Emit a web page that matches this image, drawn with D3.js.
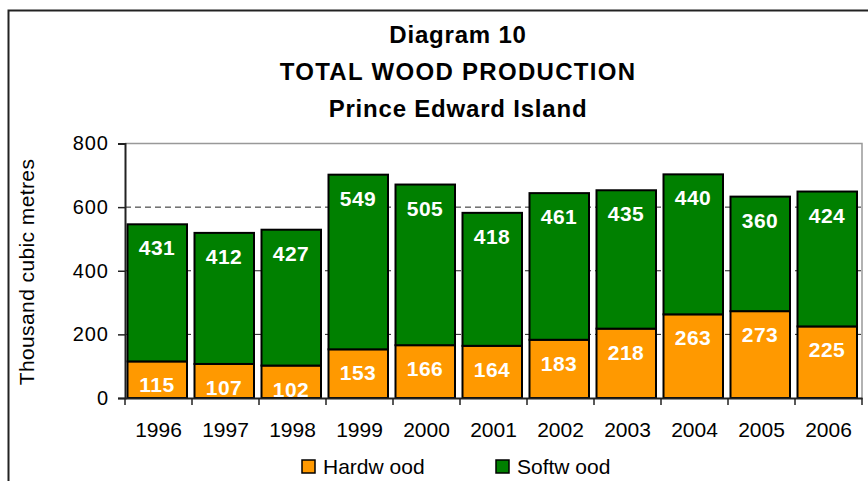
<!DOCTYPE html>
<html>
<head>
<meta charset="utf-8">
<script src="https://cdn.jsdelivr.net/npm/d3@7/dist/d3.min.js"></script>
<style>
  body { margin: 0; background: #fff; }
  text { font-family: "Liberation Sans", Arial, sans-serif; }
</style>
</head>
<body>
<div id="chart"></div>
<script>
var svgWidth = 868;
var svgHeight = 481;

// chart data
var years = ["1996", "1997", "1998", "1999", "2000", "2001", "2002", "2003", "2004", "2005", "2006"];
var hardwood = [115, 107, 102, 153, 166, 164, 183, 218, 263, 273, 225];
var softwood = [431, 412, 427, 549, 505, 418, 461, 435, 440, 360, 424];
var seriesNames = ["Hardw ood", "Softw ood"];
var yTicks = [0, 200, 400, 600, 800];
var titleLines = ["Diagram 10", "TOTAL WOOD PRODUCTION", "Prince Edward Island"];

var colors = ["#FF9900", "#008000"];

var margin = { top: 143.5, right: 6, bottom: 83, left: 125 };
var width = svgWidth - margin.left - margin.right;
var height = svgHeight - margin.top - margin.bottom;

var svg = d3.select("#chart")
  .append("svg")
  .attr("width", svgWidth)
  .attr("height", svgHeight);

// outer frame (runs off the right and bottom edge like the original)
svg.append("rect")
  .attr("x", 8.5)
  .attr("y", 10.5)
  .attr("width", 900)
  .attr("height", 500)
  .attr("fill", "none")
  .attr("stroke", "#222")
  .attr("stroke-width", 2);

// title
svg.append("g").selectAll("text")
  .data(titleLines)
  .enter()
  .append("text")
  .attr("x", 458)
  .attr("y", (d, i) => 43 + i * 37)
  .attr("text-anchor", "middle")
  .attr("font-size", "24px")
  .attr("font-weight", "bold")
  .attr("letter-spacing", (d, i) => i == 1 ? "1.3px" : "0.8px")
  .text(d => d);

var chartGroup = svg.append("g")
  .attr("transform", `translate(${margin.left}, ${margin.top})`);

var xScale = d3.scaleBand()
  .domain(years)
  .range([0, width])
  .padding(0);

var yScale = d3.scaleLinear()
  .domain([0, 800])
  .range([height, 0]);

// stacked data
var rows = years.map((y, i) => ({ year: y, hardwood: hardwood[i], softwood: softwood[i] }));
var stacked = d3.stack().keys(["hardwood", "softwood"])(rows);

// plot frame (top and right in grey)
chartGroup.append("path")
  .attr("d", `M0,0H${width}V${height}`)
  .attr("fill", "none")
  .attr("stroke", "#999")
  .attr("stroke-width", 1.5);

// gridlines
chartGroup.append("g").selectAll("line")
  .data(yTicks.filter(d => d > 0 && d < 800))
  .enter()
  .append("line")
  .attr("x1", 0)
  .attr("x2", width)
  .attr("y1", d => yScale(d))
  .attr("y2", d => yScale(d))
  .attr("stroke", "#222")
  .attr("stroke-width", 1)
  .attr("stroke-dasharray", "6,4");

// bars
var bw = xScale.bandwidth();
var layers = chartGroup.append("g").selectAll("g")
  .data(stacked)
  .enter()
  .append("g")
  .attr("fill", (d, i) => colors[i]);

layers.selectAll("rect")
  .data(d => d)
  .enter()
  .append("rect")
  .attr("x", d => xScale(d.data.year) + 2.5)
  .attr("y", d => yScale(d[1]))
  .attr("width", bw - 7.5)
  .attr("height", d => yScale(d[0]) - yScale(d[1]))
  .attr("stroke", "#000")
  .attr("stroke-width", 2);

// value labels, near the top of each segment, clipped to the plot
chartGroup.append("clipPath")
  .attr("id", "plotClip")
  .append("rect")
  .attr("x", 0)
  .attr("y", 0)
  .attr("width", width)
  .attr("height", height - 1);

var labelGroup = chartGroup.append("g").attr("clip-path", "url(#plotClip)");
stacked.forEach(function(layer) {
  labelGroup.append("g").selectAll("text")
    .data(layer)
    .enter()
    .append("text")
    .attr("x", d => xScale(d.data.year) + 1.5 + (bw - 6) / 2)
    .attr("y", d => yScale(d[1]) + 31)
    .attr("text-anchor", "middle")
    .attr("fill", "#fff")
    .attr("font-size", "21px")
    .attr("font-weight", "bold")
    .attr("letter-spacing", "0.5px")
    .text(d => d[1] - d[0]);
});

// y axis
var leftAxis = d3.axisLeft(yScale)
  .tickValues(yTicks)
  .tickSize(7)
  .tickPadding(9);

var yAxis = chartGroup.append("g")
  .call(leftAxis);
yAxis.select(".domain").attr("stroke", "#222").attr("stroke-width", 2);
yAxis.selectAll(".tick line").attr("stroke", "#222").attr("stroke-width", 1.5);
yAxis.selectAll("text")
  .attr("font-size", "20px")
  .attr("letter-spacing", "1px")
  .attr("fill", "#000");

// x axis
var bottomAxis = d3.axisBottom(xScale).tickSize(0).tickPadding(24);
var xAxis = chartGroup.append("g")
  .attr("transform", `translate(0, ${height})`)
  .call(bottomAxis);
xAxis.select(".domain").attr("stroke", "#222").attr("stroke-width", 2);
xAxis.selectAll("text")
  .attr("font-size", "21px")
  .attr("fill", "#000");

// category boundary ticks
xAxis.append("g").selectAll("line")
  .data(d3.range(years.length + 1))
  .enter()
  .append("line")
  .attr("x1", d => d * bw)
  .attr("x2", d => d * bw)
  .attr("y1", 0)
  .attr("y2", 7)
  .attr("stroke", "#222")
  .attr("stroke-width", 1.5);

// y axis title
svg.append("text")
  .attr("transform", "rotate(-90)")
  .attr("x", -272)
  .attr("y", 34)
  .attr("text-anchor", "middle")
  .attr("font-size", "21px")
  .attr("letter-spacing", "0.4px")
  .text("Thousand cubic metres");

// legend
var legendX = [302, 496];
var legend = svg.append("g").selectAll("g")
  .data(seriesNames)
  .enter()
  .append("g")
  .attr("transform", (d, i) => `translate(${legendX[i]}, 460)`);

legend.append("rect")
  .attr("width", 13)
  .attr("height", 13)
  .attr("fill", (d, i) => colors[i])
  .attr("stroke", "#000")
  .attr("stroke-width", 1.5);

legend.append("text")
  .attr("x", 21)
  .attr("y", 13.5)
  .attr("font-size", "21px")
  .text(d => d);
</script>
</body>
</html>
